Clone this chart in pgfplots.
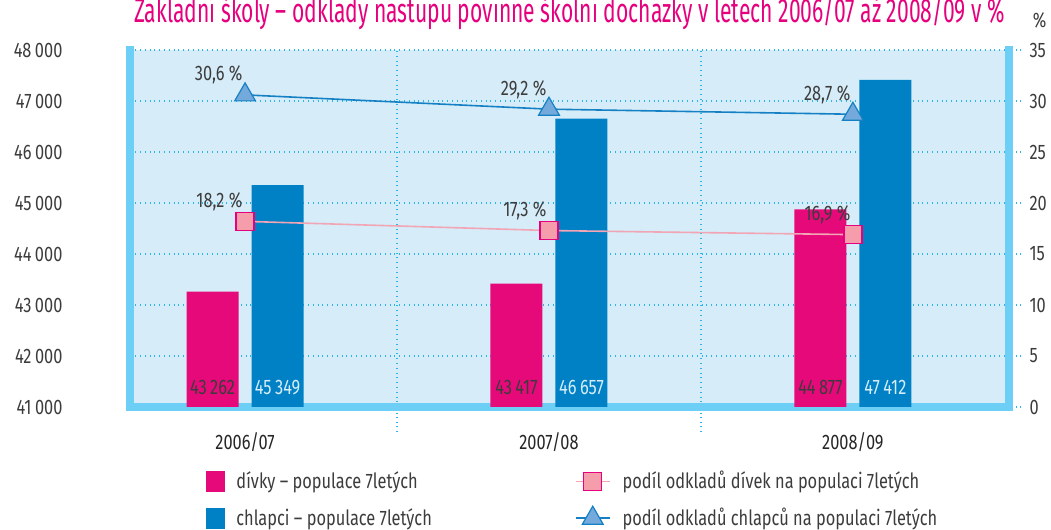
\documentclass[border=0pt]{standalone}
\usepackage{fontspec}
\setmainfont{Fira Sans}[FakeStretch=0.78]
\newfontfamily\titlefont{Fira Sans}[FakeStretch=0.62]
\usepackage{pgfplots}
\pgfplotsset{compat=1.18}

\definecolor{barpink}{HTML}{E6097A}
\definecolor{barblue}{HTML}{0080C5}
\definecolor{bgcol}{HTML}{D6EDF9}
\definecolor{framecol}{HTML}{6DCFF6}
\definecolor{gridcol}{HTML}{2AB7E8}
\definecolor{textcol}{HTML}{3C3C3C}
\definecolor{linepink}{HTML}{F2A5B4}
\definecolor{markpink}{HTML}{F59DAB}
\definecolor{titlecol}{HTML}{E6007E}
\definecolor{lineblue}{HTML}{1580C4}
\definecolor{markblue}{HTML}{74A9DB}

\begin{document}
\begin{tikzpicture}
% left axis: population bars
\begin{axis}[
    name=ax, at={(0,0)}, anchor=south west,
    scale only axis, width=439pt, height=178.5pt,
    xmin=-0.377, xmax=2.512, ymin=41000, ymax=48000,
    axis x line*=bottom, axis y line*=left,
    axis line style={line width=4pt, framecol, line cap=rect},
    axis background/.style={fill=bgcol},
    xtick={0,1,2}, xticklabels={2006/07,2007/08,2008/09},
    minor xtick={0.5,1.5},
    ytick={41000,42000,...,48000},
    scaled y ticks=false,
    major tick length=0pt, minor tick length=12pt, tick align=outside,
    minor x tick style={gridcol, dotted, line width=0.7pt},
    ymajorgrids, xminorgrids,
    major grid style={gridcol, dotted, line width=0.7pt},
    minor grid style={gridcol, dotted, line width=0.7pt},
    tick label style={font=\fontsize{10.5}{12}\selectfont, text=textcol},
    yticklabel style={xshift=-30.5pt},
    xticklabel style={yshift=-9pt, text=black!85},
    /pgf/number format/1000 sep={\,},
    /pgf/number format/assume math mode=true,
    nodes near coords align={center},
    every node near coord/.append style={anchor=center, font=\fontsize{10.5}{12}\selectfont},
]
\addplot[ybar, bar width=26pt, bar shift=-16.25pt, fill=barpink, draw=none]
    coordinates {(0,43262) (1,43417) (2,44877)};
\addplot[ybar, bar width=26pt, bar shift=16.25pt, fill=barblue, draw=none]
    coordinates {(0,45349) (1,46657) (2,47412)};
% value labels at the foot of the bars
\addplot[draw=none, mark=none, nodes near coords, point meta=explicit,
    every node near coord/.append style={text=textcol, xshift=-16.25pt}]
    coordinates {(0,41390) [43262] (1,41390) [43417] (2,41390) [44877]};
\addplot[draw=none, mark=none, nodes near coords, point meta=explicit,
    every node near coord/.append style={text=bgcol, xshift=16.25pt}]
    coordinates {(0,41390) [45349] (1,41390) [46657] (2,41390) [47412]};
\end{axis}

% right axis: shares in %
\begin{axis}[
    at={(0,0)}, anchor=south west,
    scale only axis, width=439pt, height=178.5pt,
    xmin=-0.377, xmax=2.512, ymin=0, ymax=35,
    axis x line=none, axis y line*=right,
    axis line style={line width=4pt, framecol, line cap=rect},
    ytick={0,5,...,35},
    major tick length=6pt, tick align=outside,
    ytick style={gridcol, dotted, line width=0.7pt},
    tick label style={font=\fontsize{10.5}{12}\selectfont, text=textcol},
    yticklabel style={anchor=west, xshift=1pt},
    /pgf/number format/assume math mode=true,
    clip=false,
    legend columns=2, legend cell align=left,
    legend style={at={(0.085,-0.168)}, anchor=north west, draw=none, fill=none,
        inner sep=0pt, row sep=4pt, font=\fontsize{10.5}{12}\selectfont, text=textcol,
        /tikz/every odd column/.append style={column sep=4pt},
        /tikz/every even column/.append style={column sep=69.5pt}},
    every node near coord/.append style={anchor=south east, xshift=-1pt, yshift=5pt,
        font=\fontsize{10.5}{12}\selectfont, text=textcol, inner sep=0pt},
]
\addlegendimage{legend image code/.code={\fill[barpink] (0pt,-5pt) rectangle (9pt,5pt);}}
\addlegendentry{dívky – populace 7letých}
\addplot[linepink, line width=0.8pt, mark=square*, mark size=4.5pt,
    mark options={fill=markpink, draw=titlecol, line width=0.6pt},
    nodes near coords={\pgfmathprintnumber[fixed, fixed zerofill, precision=1, use comma, assume math mode=true]{\pgfplotspointmeta}\ \%}]
    coordinates {(0,18.2) (1,17.3) (2,16.9)};
\addlegendentry{podíl odkladů dívek na populaci 7letých}
\addlegendimage{legend image code/.code={\fill[barblue] (0pt,-5pt) rectangle (9pt,5pt);}}
\addlegendentry{chlapci – populace 7letých}
\addplot[lineblue, line width=0.8pt, mark=triangle*, mark size=6pt,
    mark options={fill=markblue, draw=lineblue, line width=0.6pt},
    nodes near coords={\pgfmathprintnumber[fixed, fixed zerofill, precision=1, use comma, assume math mode=true]{\pgfplotspointmeta}\ \%}]
    coordinates {(0,30.6) (1,29.2) (2,28.7)};
\addlegendentry{podíl odkladů chlapců na populaci 7letých}
\end{axis}

\node[anchor=base, font=\titlefont\fontsize{17}{20}\selectfont, text=titlecol]
    at ([yshift=14pt]ax.north) {Základní školy – odklady nástupu povinné školní docházky v letech 2006/07 až 2008/09 v \%};
\node[anchor=base west, font=\fontsize{10.5}{12}\selectfont, text=textcol, inner sep=0pt]
    at ([xshift=12pt, yshift=11.5pt]ax.north east) {\%};

\pgfresetboundingbox
\useasboundingbox ([shift={(-65.25pt,-61.5pt)}]ax.south west) rectangle ([shift={(460.25pt,203.5pt)}]ax.south west);
\end{tikzpicture}
\end{document}
